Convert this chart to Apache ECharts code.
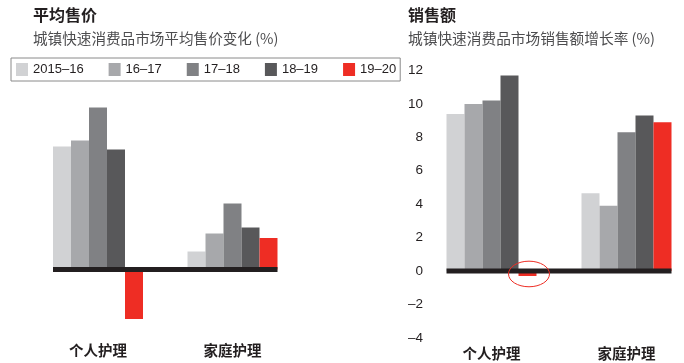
<!DOCTYPE html>
<html><head><meta charset="utf-8">
<script src="https://cdn.jsdelivr.net/npm/echarts@6/dist/echarts.min.js"></script>
<style>html,body{margin:0;padding:0;background:#fff}#c{width:684px;height:363px}</style>
</head><body><div id="c"></div>
<script>
// ---- data ----
const categories = ['个人护理', '家庭护理'];
const periods = ['2015–16', '16–17', '17–18', '18–19', '19–20'];
const periodColors = ['#d1d2d4', '#a7a8ab', '#808184', '#58585a', '#ee2d24'];
// Average price change (%), no axis shown in the original
const price1516 = [4.1, 0.6];
const price1617 = [4.3, 1.2];
const price1718 = [5.4, 2.2];
const price1819 = [4.0, 1.4];
const price1920 = [-1.65, 1.05];
// Sales growth (%)
const sales1516 = [9.4, 4.65];
const sales1617 = [10.0, 3.9];
const sales1718 = [10.2, 8.3];
const sales1819 = [11.7, 9.3];
const sales1920 = [-0.3, 8.9];
const salesTickMin = -4, salesTickMax = 12, salesTickStep = 2;
const leftTitle = '平均售价';
const leftSubtitle = '城镇快速消费品市场平均售价变化 (%)';
const rightTitle = '销售额';
const rightSubtitle = '城镇快速消费品市场销售额增长率 (%)';

const priceSets = [price1516, price1617, price1718, price1819, price1920];
const salesSets = [sales1516, sales1617, sales1718, sales1819, sales1920];

const LATIN = "'Liberation Sans', Arial, sans-serif";
const CJK = "'Noto Sans CJK SC', sans-serif";

const chart = echarts.init(document.getElementById('c'), null, {renderer: 'canvas'});

function mkSeries(sets, gi) {
  return sets.map((d, i) => ({
    type: 'bar', name: periods[i], xAxisIndex: gi, yAxisIndex: gi,
    data: d, barWidth: 18, barGap: '0%',
    itemStyle: {color: periodColors[i]},
    emphasis: {disabled: true}, silent: true
  }));
}

const catAxis = (gi, margin) => ({
  type: 'category', gridIndex: gi, data: categories,
  axisLine: {show: false, onZero: false}, axisTick: {show: false},
  axisLabel: {margin: margin, color: '#231f20', fontFamily: CJK, fontWeight: 'bold', fontSize: 14.5}
});

const option = {
  animation: false,
  backgroundColor: '#fff',
  legend: {
    data: periods, left: 11, top: 58, orient: 'horizontal',
    itemWidth: 12, itemHeight: 13, itemGap: 25,
    padding: [5, 4, 5, 5],
    borderColor: '#8a8a8a', borderWidth: 1,
    icon: 'rect', selectedMode: false,
    textStyle: {fontFamily: LATIN, fontSize: 13, color: '#231f20'}
  },
  grid: [
    {left: 30.75, width: 269, top: 89.5, height: 240, outerBoundsMode: 'none', containLabel: false},
    {left: 424, width: 270, top: 70.5, height: 267.3, outerBoundsMode: 'none', containLabel: false}
  ],
  xAxis: [catAxis(0, 14), catAxis(1, 8)],
  yAxis: [
    {type: 'value', gridIndex: 0, min: -2, max: 6, show: false, splitLine: {show: false}},
    {type: 'value', gridIndex: 1, min: salesTickMin, max: salesTickMax, interval: salesTickStep,
     axisLine: {show: false}, axisTick: {show: false}, splitLine: {show: false},
     axisLabel: {margin: 1, color: '#231f20', fontFamily: LATIN, fontSize: 13.5,
       formatter: v => v < 0 ? '\u2013' + Math.abs(v) : String(v)}}
  ],
  series: mkSeries(priceSets, 0).concat(mkSeries(salesSets, 1))
};
chart.setOption(option);

// ---- decorations computed from the library's layout ----
const model = chart.getModel();
function layoutOf(si, di) { return model.getSeriesByIndex(si).getData().getItemLayout(di); }
function zeroLine(firstSi, lastSi, gi) {
  const a = layoutOf(firstSi, 0), b = layoutOf(lastSi, categories.length - 1);
  const y = chart.convertToPixel({yAxisIndex: gi}, 0);
  return {type: 'line', z: 100, shape: {x1: a.x, y1: y, x2: b.x + b.width, y2: y},
    style: {stroke: '#231f20', lineWidth: 5}};
}
const redR = layoutOf(9, 0);
const zeroR = chart.convertToPixel({yAxisIndex: 1}, 0);
const graphics = [
  {type: 'text', x: 33, y: 15, style: {text: leftTitle, font: 'bold 16px ' + CJK, fill: '#231f20', verticalAlign: 'middle'}},
  {type: 'text', x: 33, y: 38, style: {text: leftSubtitle, font: '14.6px ' + CJK, fill: '#4d4d4f', verticalAlign: 'middle'}},
  {type: 'text', x: 408, y: 15, style: {text: rightTitle, font: 'bold 16px ' + CJK, fill: '#231f20', verticalAlign: 'middle'}},
  {type: 'text', x: 408, y: 38, style: {text: rightSubtitle, font: '14.7px ' + CJK, fill: '#4d4d4f', verticalAlign: 'middle'}},
  zeroLine(0, 4, 0),
  zeroLine(5, 9, 1),
  {type: 'ellipse', z: 101, shape: {cx: redR.x + redR.width / 2 + 1.5, cy: zeroR + 3, rx: 20.5, ry: 12.8},
   style: {fill: 'none', stroke: '#ee2d24', lineWidth: 1}}
];
chart.setOption({graphic: graphics});
</script>
</body></html>
